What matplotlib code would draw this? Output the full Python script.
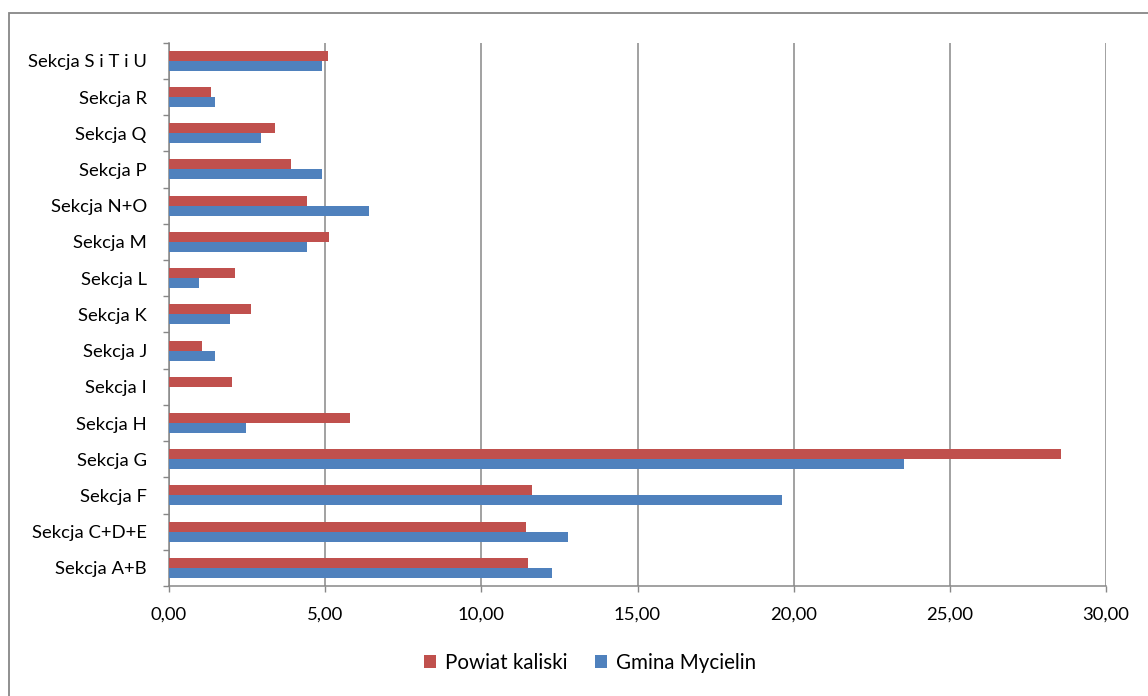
import matplotlib
matplotlib.use('Agg')
import matplotlib.pyplot as plt
import matplotlib.patches as patches
from matplotlib.ticker import FuncFormatter, FixedLocator
import numpy as np

plt.rcParams['font.family'] = ['Lato', 'DejaVu Sans']

# Dane (od dołu do góry)
categories = ['Sekcja A+B', 'Sekcja C+D+E', 'Sekcja F', 'Sekcja G', 'Sekcja H',
              'Sekcja I', 'Sekcja J', 'Sekcja K', 'Sekcja L', 'Sekcja M',
              'Sekcja N+O', 'Sekcja P', 'Sekcja Q', 'Sekcja R', 'Sekcja S i T i U']
powiat_kaliski = [11.51, 11.43, 11.63, 28.57, 5.81,
                  2.02, 1.07, 2.62, 2.11, 5.12,
                  4.43, 3.91, 3.38, 1.36, 5.09]
gmina_mycielin = [12.26, 12.76, 19.63, 23.54, 2.46,
                  0.0, 1.47, 1.95, 0.96, 4.43,
                  6.41, 4.91, 2.94, 1.47, 4.91]
x_ticks = [0, 5, 10, 15, 20, 25, 30]

red = '#C0504D'
blue = '#4F81BD'
gray = '#878787'

fig = plt.figure(figsize=(11.48, 6.96), dpi=100)
ax = fig.add_axes([169 / 1148, 1 - 586 / 696, (1106 - 169) / 1148, (586 - 42.7) / 696])

# Ramka wokół wykresu
fig.patches.append(patches.Rectangle((9 / 1148, -0.2), 1.2, 1.2 - 13 / 696,
                                     transform=fig.transFigure, fill=False,
                                     edgecolor=gray, linewidth=1.3))

y = np.arange(len(categories))
h = 0.276
ax.barh(y + h / 2, powiat_kaliski, height=h, color=red, label='Powiat kaliski', zorder=3)
ax.barh(y - h / 2, gmina_mycielin, height=h, color=blue, label='Gmina Mycielin', zorder=3)

ax.set_xlim(0, 30)
ax.set_ylim(-0.5, len(categories) - 0.5)
ax.set_xticks(x_ticks)
ax.xaxis.set_major_formatter(FuncFormatter(lambda v, p: f'{v:.2f}'.replace('.', ',')))
ax.set_yticks(y)
ax.set_yticklabels(categories)
ax.yaxis.set_minor_locator(FixedLocator(np.arange(-0.5, len(categories), 1.0)))

ax.tick_params(axis='y', which='major', length=0, pad=16, labelsize=13.3)
ax.tick_params(axis='y', which='minor', length=4.5, width=1.0, color=gray, direction='out')
ax.tick_params(axis='x', which='major', length=4.5, width=1.0, color=gray, pad=10, labelsize=13.3)

ax.grid(axis='x', color=gray, linewidth=1.1, zorder=0)
for s in ['top', 'right']:
    ax.spines[s].set_visible(False)
for s in ['left', 'bottom']:
    ax.spines[s].set_color(gray)
    ax.spines[s].set_linewidth(1.1)

fig.legend(loc='center', bbox_to_anchor=(0.514, 1 - 663 / 696), ncol=2, frameon=False,
           fontsize=14.8, handlelength=0.6, handleheight=0.6, handletextpad=0.45,
           columnspacing=1.3)

fig.savefig('out.png', dpi=100)
